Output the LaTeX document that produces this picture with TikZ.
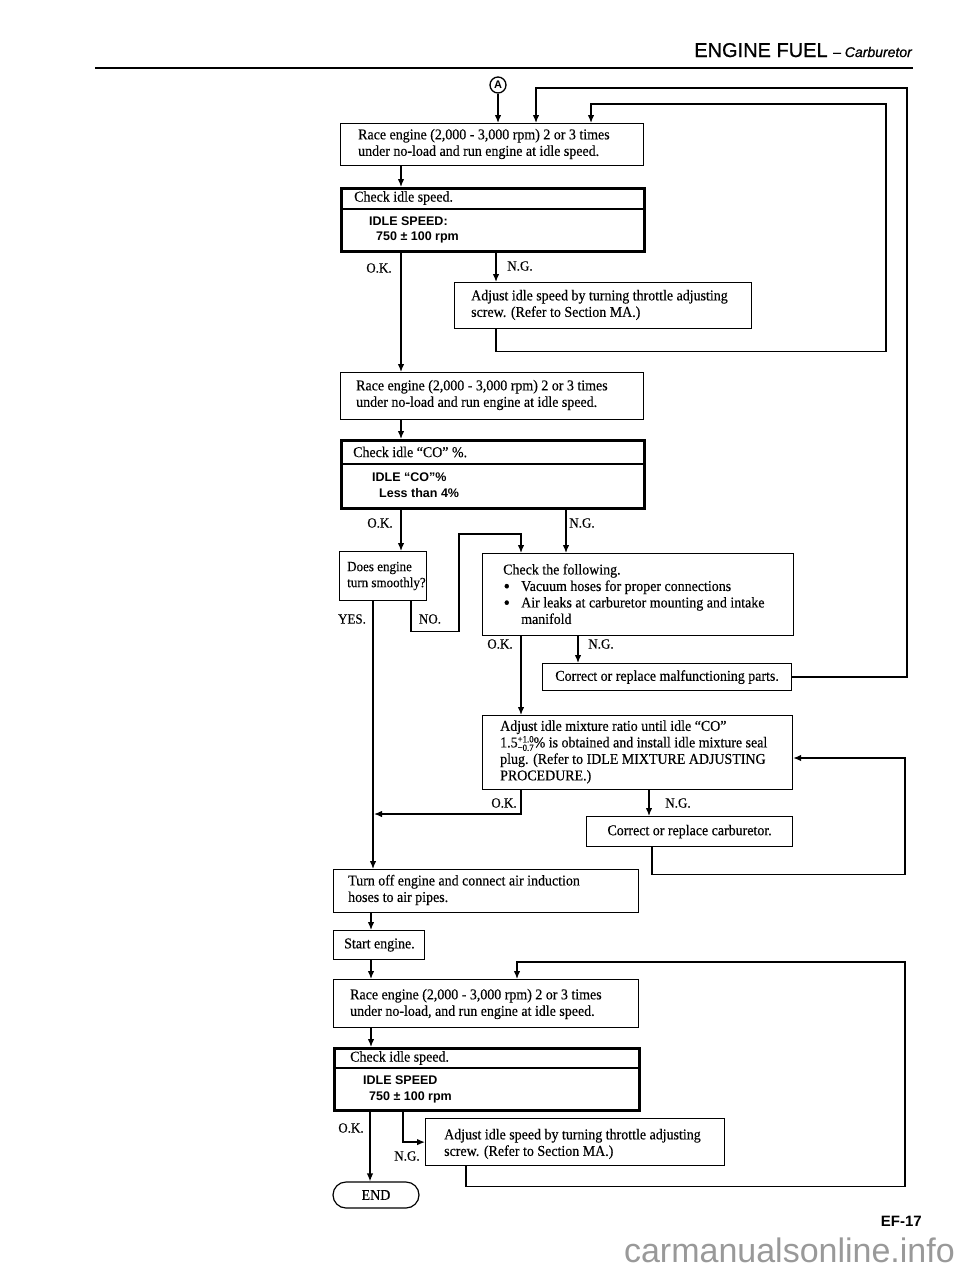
\documentclass[tikz,border=0pt]{standalone}
\usepackage{fontspec}
\setmainfont{Liberation Serif}[FakeStretch=0.93, FakeBold=0.3]
\newfontfamily\hsans{Liberation Sans}
\newfontfamily\hsanshead{Liberation Sans}[FakeBold=0.8]
\usetikzlibrary{arrows.meta}
\begin{document}
\begin{tikzpicture}[x=1pt,y=-1pt,
  every node/.style={inner sep=0pt},
  txt/.style={align=left, anchor=west, font=\fontsize{15}{16.5}\selectfont},
  ctxt/.style={font=\fontsize{15}{16.5}\selectfont},
  sfb/.style={anchor=west, font=\hsans\bfseries\fontsize{12.5}{14}\selectfont},
  lbl/.style={font=\fontsize{14}{15}\selectfont},
  box/.style={draw, line width=1.2pt, anchor=north west},
  tbox/.style={draw, line width=2.6pt, anchor=north west},
  divl/.style={line width=1.3pt},
  arr/.style={line width=1.3pt, -{Latex[length=8pt,width=6.5pt]}},
]
\useasboundingbox (0,0) rectangle (960,1270);
\fill[white] (0,0) rectangle (960,1270);

% header
\node[anchor=base east, font=\hsanshead\fontsize{20}{20}\selectfont] (hdr) at (912,57) {ENGINE FUEL {\fontsize{14}{14}\selectfont – \itshape Carburetor}};
\draw[line width=2.6pt] (95,68) -- (913,68);

% boxes
\node[circle, draw, line width=1.3pt, minimum size=16pt, font=\hsans\bfseries\fontsize{11}{11}\selectfont] (A) at (498,85) {A};

\node[box, minimum width=303pt, minimum height=42pt] (r1) at (340,123) {};
\node[txt] (r1t) at (358,144) {Race engine (2,000 - 3,000 rpm) 2 or 3 times\\under no-load and run engine at idle speed.};

\node[tbox, minimum width=303pt, minimum height=63pt] (c1) at (340,187) {};
\draw[divl] ([yshift=-22pt]c1.north west) -- ([yshift=-22pt]c1.north east);
\node[txt] (c1a) at (354,198) {Check idle speed.};
\node[sfb] (c1b) at (369,221) {IDLE SPEED:};
\node[sfb] (c1c) at (376,237) {750 ± 100 rpm};

\node[box, minimum width=297pt, minimum height=46pt] (a1) at (454,282) {};
\node[txt] (a1t) at (471,305) {Adjust idle speed by turning throttle adjusting\\screw. (Refer to Section MA.)};

\node[box, minimum width=303pt, minimum height=47pt] (r2) at (340,372) {};
\node[txt] (r2t) at (356,395) {Race engine (2,000 - 3,000 rpm) 2 or 3 times\\under no-load and run engine at idle speed.};

\node[tbox, minimum width=303pt, minimum height=68pt] (c2) at (340,439) {};
\draw[divl] ([yshift=-25pt]c2.north west) -- ([yshift=-25pt]c2.north east);
\node[txt] (c2a) at (353,452) {Check idle “CO” \%.};
\node[sfb] (c2b) at (372,477) {IDLE “CO”\%};
\node[sfb] (c2c) at (379,493) {Less than 4\%};

\node[box, minimum width=87pt, minimum height=49pt] (d) at (339,551) {};
\node[txt, font=\fontsize{14}{16}\selectfont] (dt) at (347,576) {Does engine\\turn smoothly?};

\node[box, minimum width=311pt, minimum height=82pt] (k) at (482,553) {};
\node[txt] (kt) at (503,594) {Check the following.\\\makebox[18pt][l]{\hspace{0.5pt}\fontsize{19}{10}\selectfont\raisebox{-1.5pt}{•}}Vacuum hoses for proper connections\\\makebox[18pt][l]{\hspace{0.5pt}\fontsize{19}{10}\selectfont\raisebox{-1.5pt}{•}}Air leaks at carburetor mounting and intake\\\hspace*{18pt}manifold};

\node[box, minimum width=249pt, minimum height=27pt] (m) at (542,663) {};
\node[ctxt] (mt) at (m.center) {Correct or replace malfunctioning parts.};

\node[box, minimum width=310pt, minimum height=74pt] (x) at (482,715) {};
\node[txt] (xt) at (500,752) {Adjust idle mixture ratio until idle “CO”\\1.5\makebox[0pt][l]{\smash{\raisebox{5pt}{\fontsize{9.5}{9.5}\selectfont +1.0}}}\smash{\raisebox{-3.5pt}{\fontsize{9.5}{9.5}\selectfont −0.7}}\% is obtained and install idle mixture seal\\plug. (Refer to IDLE MIXTURE ADJUSTING\\PROCEDURE.)};

\node[box, minimum width=206pt, minimum height=30pt] (cc) at (586,816) {};
\node[ctxt] (cct) at (cc.center) {Correct or replace carburetor.};

\node[box, minimum width=305pt, minimum height=43pt] (t) at (333,869) {};
\node[txt] (tt) at (348,890) {Turn off engine and connect air induction\\hoses to air pipes.};

\node[box, minimum width=91pt, minimum height=29pt] (s) at (333,930) {};
\node[txt] (st) at (344,945) {Start engine.};

\node[box, minimum width=305pt, minimum height=48pt] (r3) at (333,979) {};
\node[txt] (r3t) at (350,1004) {Race engine (2,000 - 3,000 rpm) 2 or 3 times\\under no-load, and run engine at idle speed.};

\node[tbox, minimum width=305pt, minimum height=62pt] (c3) at (333,1047) {};
\draw[divl] ([yshift=-21pt]c3.north west) -- ([yshift=-21pt]c3.north east);
\node[txt] (c3a) at (350,1058) {Check idle speed.};
\node[sfb] (c3b) at (363,1080) {IDLE SPEED};
\node[sfb] (c3c) at (369,1097) {750 ± 100 rpm};

\node[box, minimum width=299pt, minimum height=47pt] (a3) at (425,1118) {};
\node[txt] (a3t) at (444,1144) {Adjust idle speed by turning throttle adjusting\\screw. (Refer to Section MA.)};

\node[draw, line width=1.2pt, rounded corners=13pt, minimum width=86pt, minimum height=26pt, ctxt] (end) at (376,1195) {END};

% labels
\node[lbl] (l1) at (379,268) {O.K.};
\node[lbl] (l2) at (520,266) {N.G.};
\node[lbl] (l3) at (380,523) {O.K.};
\node[lbl] (l4) at (582,523) {N.G.};
\node[lbl] (l5) at (352,619) {YES.};
\node[lbl] (l6) at (430,619) {NO.};
\node[lbl] (l7) at (500,644) {O.K.};
\node[lbl] (l8) at (601,644) {N.G.};
\node[lbl] (l9) at (504,803) {O.K.};
\node[lbl] (l10) at (678,803) {N.G.};
\node[lbl] (l11) at (351,1128) {O.K.};
\node[lbl] (l12) at (407,1156) {N.G.};

% coordinates
\coordinate (p1) at ([xshift=61pt]r1.south west);
\coordinate (c1ok) at ([xshift=61pt]c1.south west);
\coordinate (c1ng) at ([xshift=156pt]c1.south west);
\coordinate (a1o) at ([xshift=42pt]a1.south west);
\coordinate (in1) at ([xshift=196pt]r1.north west);
\coordinate (in2) at ([xshift=251pt]r1.north west);
\coordinate (p2) at ([xshift=61pt]r2.south west);
\coordinate (c2ok) at ([xshift=61pt]c2.south west);
\coordinate (c2ng) at ([xshift=226pt]c2.south west);
\coordinate (dy) at ([xshift=34pt]d.south west);
\coordinate (dn) at ([xshift=72pt]d.south west);
\coordinate (kin) at ([xshift=39pt]k.north west);
\coordinate (kok) at ([xshift=39pt]k.south west);
\coordinate (kng) at ([xshift=96pt]k.south west);
\coordinate (xok) at ([xshift=39pt]x.south west);
\coordinate (yj) at (374,814);
\coordinate (xng) at ([xshift=167pt]x.south west);
\coordinate (cco) at ([xshift=66pt]cc.south west);
\coordinate (xin) at ([yshift=-43pt]x.north east);
\coordinate (p3) at ([xshift=38pt]t.south west);
\coordinate (p4) at ([xshift=38pt]s.south west);
\coordinate (a3o) at ([xshift=41pt]a3.south west);
\coordinate (r3in) at ([xshift=184pt]r3.north west);
\coordinate (p5) at ([xshift=38pt]r3.south west);
\coordinate (c3ok) at ([xshift=37pt]c3.south west);
\coordinate (c3ng) at ([xshift=70pt]c3.south west);

% connectors
\draw[arr] (A.south) -- (A.south |- r1.north);
\draw[arr] (p1) -- (p1 |- c1.north);
\draw[arr] (c1ok) -- (c1ok |- r2.north);
\draw[arr] (c1ng) -- (c1ng |- a1.north);
\draw[arr] (a1o) -- ++(0,22) -| (886,104) -| (in2);
\draw[arr] (m.east) -| (907,88) -| (in1);
\draw[arr] (p2) -- (p2 |- c2.north);
\draw[arr] (c2ok) -- (c2ok |- d.north);
\draw[arr] (c2ng) -- (c2ng |- k.north);
\draw[arr] (dy) -- (dy |- t.north);
\draw[arr] (dn) -- ++(0,30) -| (459,534) -| (kin);
\draw[arr] (kok) -- (kok |- x.north);
\draw[arr] (kng) -- (kng |- m.north);
\draw[arr] (xok) |- (yj);
\draw[arr] (xng) -- (xng |- cc.north);
\draw[arr] (cco) -- ++(0,27) -| (905,758) -- (xin);
\draw[arr] (p3) -- (p3 |- s.north);
\draw[arr] (p4) -- (p4 |- r3.north);
\draw[arr] (a3o) -- ++(0,20) -| (905,962) -| (r3in);
\draw[arr] (p5) -- (p5 |- c3.north);
\draw[arr] (c3ok) -- (c3ok |- end.north);
\draw[arr] (c3ng) |- (a3.west);

% page number and watermark
\node[anchor=base east, font=\hsans\bfseries\fontsize{15}{15}\selectfont] (pg) at (922,1226) {EF-17};
\node[anchor=base east, font=\hsans\fontsize{34}{34}\selectfont, text=black!40] (wm) at (955,1262) {carmanualsonline.info};
\end{tikzpicture}
\end{document}
